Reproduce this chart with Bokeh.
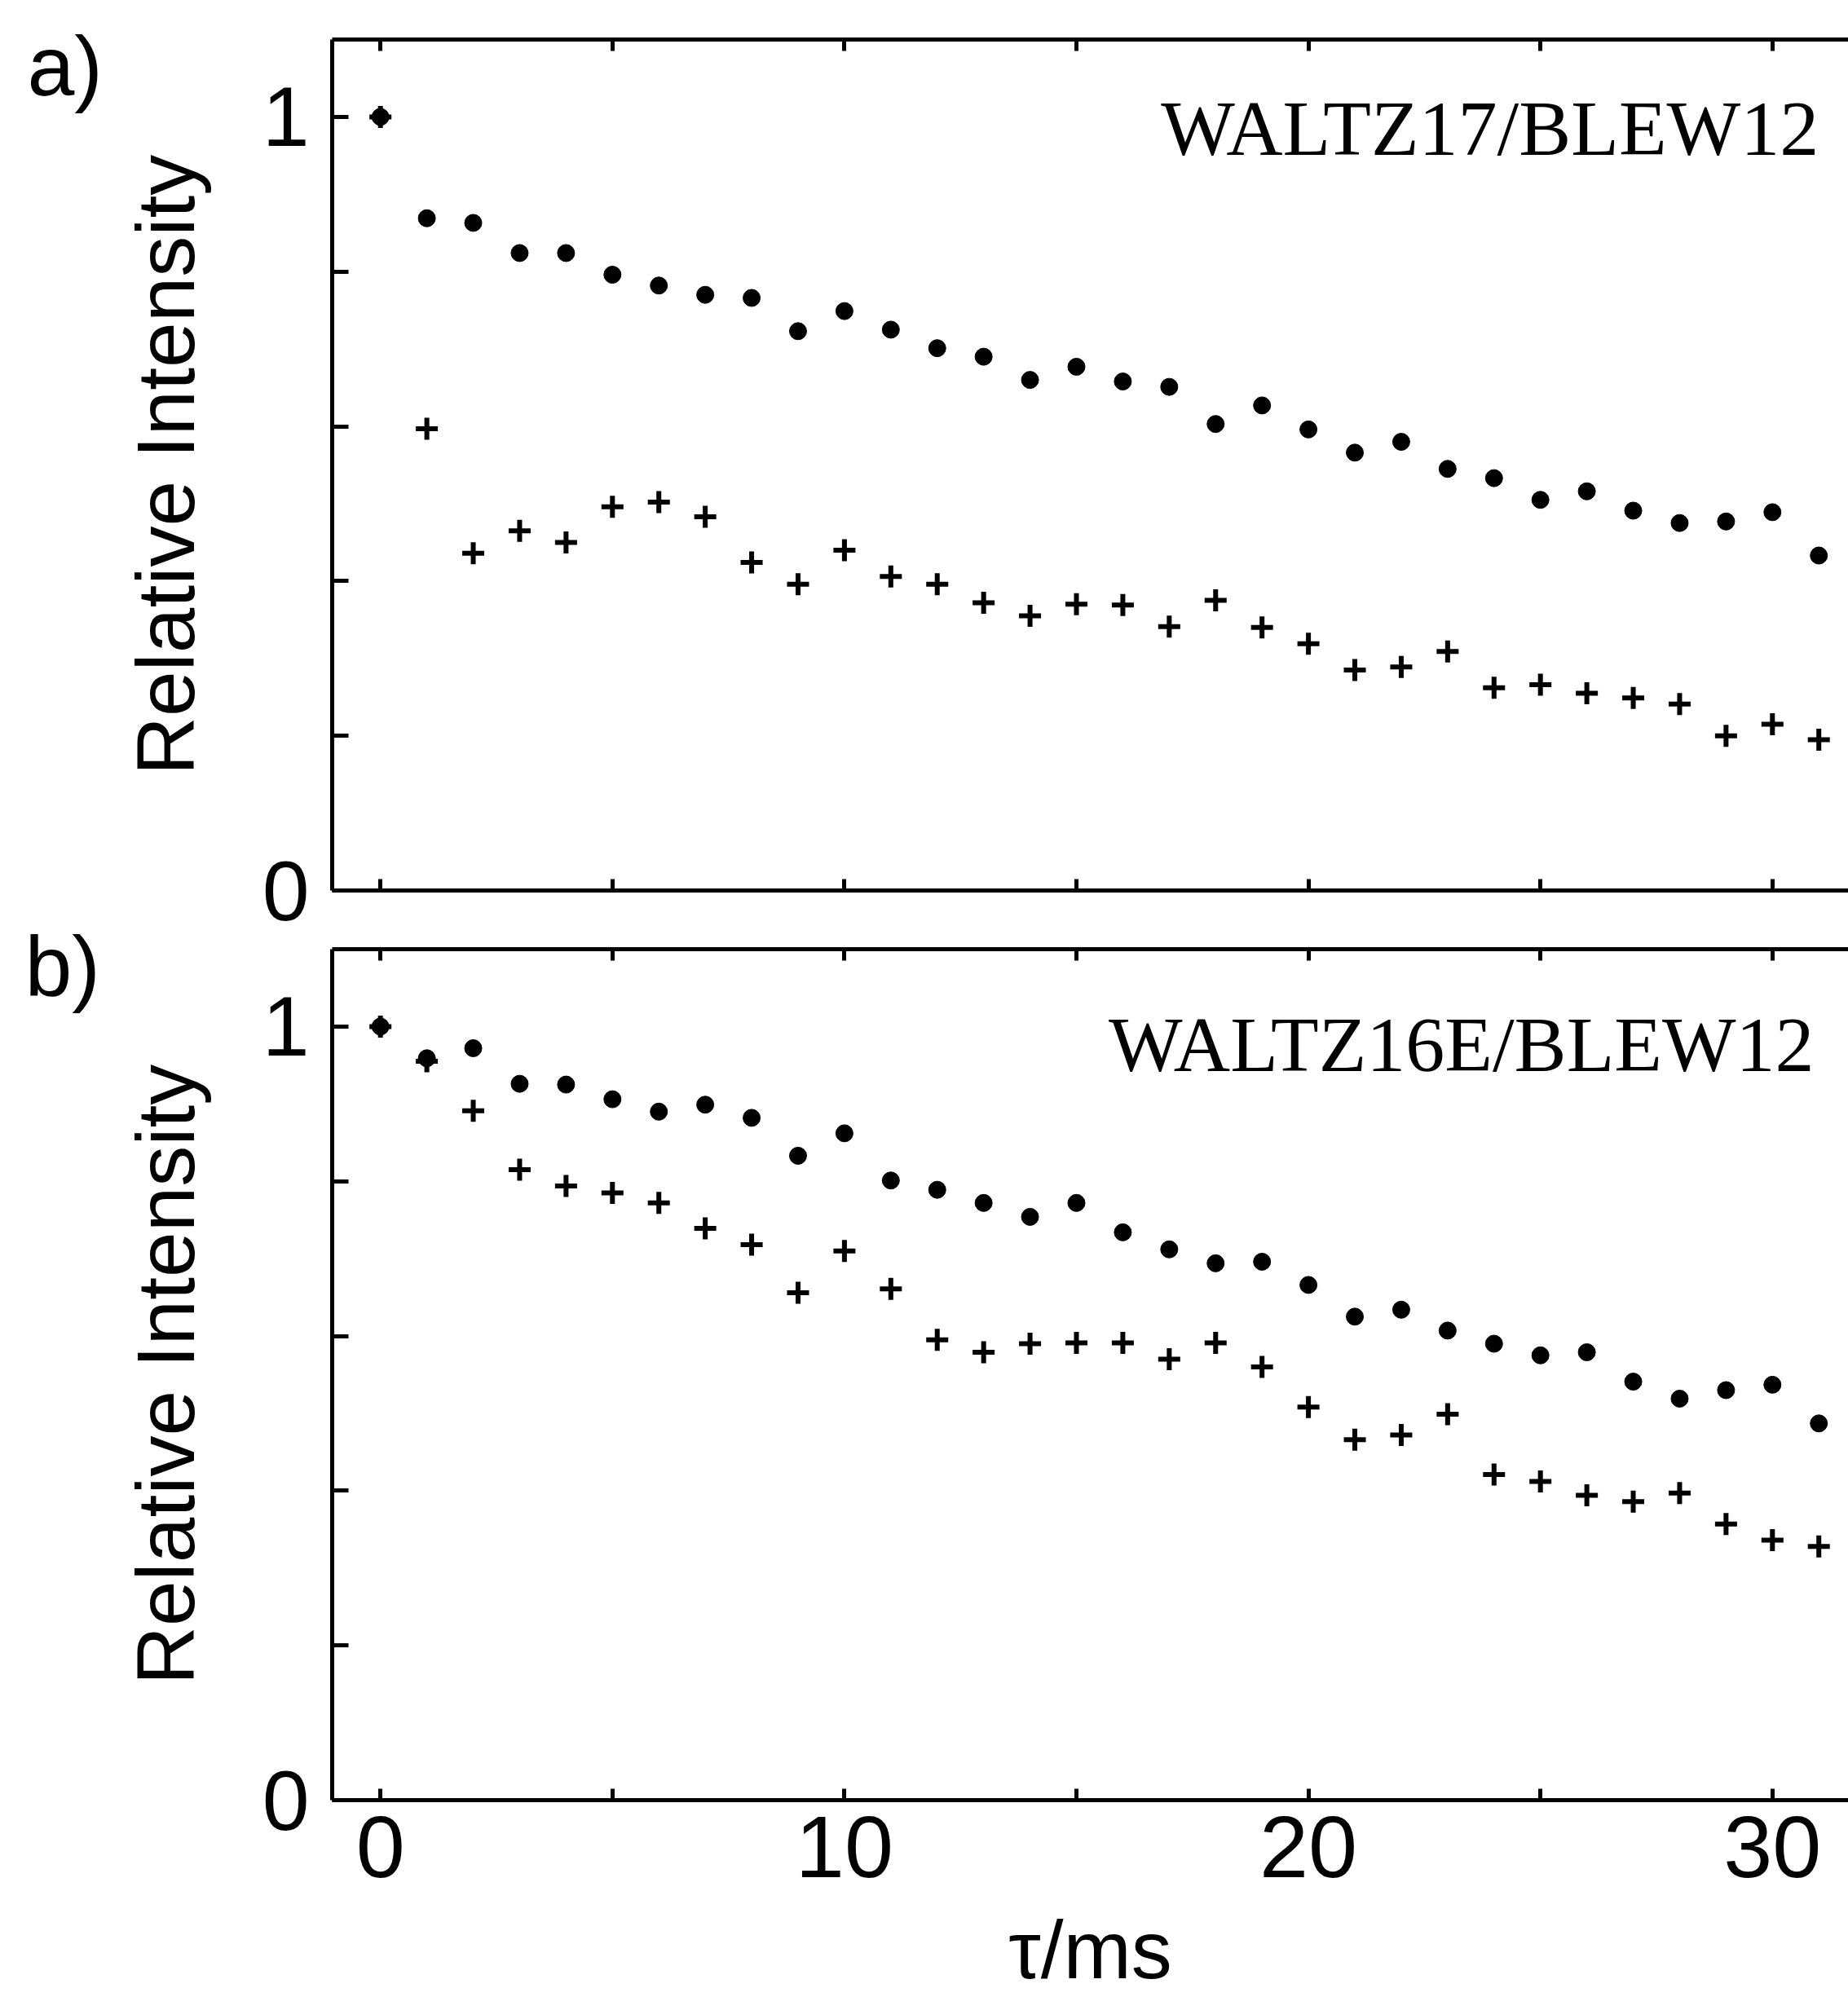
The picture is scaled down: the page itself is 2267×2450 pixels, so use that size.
from bokeh.plotting import figure
from bokeh.models import FixedTicker, LinearAxis, Range1d, Label
from bokeh.layouts import column, row
from bokeh.embed import file_html
from bokeh.resources import INLINE

# ---------------- data ----------------
tau = list(range(32))  # tau / ms

a_dots = [1.000, 0.869, 0.863, 0.824, 0.824, 0.796, 0.782, 0.770, 0.766, 0.723,
          0.749, 0.725, 0.701, 0.690, 0.660, 0.677, 0.658, 0.651, 0.603, 0.627,
          0.596, 0.566, 0.580, 0.545, 0.533, 0.505, 0.516, 0.491, 0.475, 0.477,
          0.489, 0.433]
a_cross = [1.000, 0.597, 0.436, 0.465, 0.450, 0.496, 0.502, 0.483, 0.424, 0.396,
           0.440, 0.406, 0.396, 0.372, 0.355, 0.370, 0.369, 0.341, 0.375, 0.340,
           0.319, 0.285, 0.289, 0.309, 0.262, 0.266, 0.255, 0.249, 0.241, 0.200,
           0.215, 0.195]
b_dots = [1.000, 0.959, 0.972, 0.926, 0.925, 0.906, 0.890, 0.899, 0.882, 0.833,
          0.862, 0.801, 0.789, 0.772, 0.754, 0.772, 0.734, 0.712, 0.694, 0.696,
          0.666, 0.625, 0.634, 0.607, 0.590, 0.575, 0.579, 0.541, 0.519, 0.530,
          0.537, 0.487]
b_cross = [1.000, 0.955, 0.891, 0.815, 0.794, 0.785, 0.772, 0.739, 0.718, 0.656,
           0.710, 0.661, 0.595, 0.579, 0.590, 0.591, 0.591, 0.570, 0.591, 0.560,
           0.508, 0.466, 0.472, 0.499, 0.421, 0.412, 0.394, 0.386, 0.397, 0.357,
           0.336, 0.328]

x_major = [0, 10, 20, 30]
x_minor = [5, 15, 25]
y_major = [0, 1]
y_minor = [0.2, 0.4, 0.6, 0.8]

titles = ["WALTZ17/BLEW12", "WALTZ16E/BLEW12"]
panel_tags = ["a)", "b)"]
x_label = "τ/ms"
y_label = "Relative Intensity"

# ---------------- layout constants ----------------
W = 2267
H = 2450
TAG_W = 130           # narrow strip on the left holding the panel tags
LEFT = 407            # absolute x of the plot frames' left edge
X0 = -1.04
PX_PER_MS = 56.92
X1 = X0 + (W - LEFT) / PX_PER_MS
SANS = "Liberation Sans"
SERIF = "Liberation Serif"


def style_axis(ax, tick_len, labels, font_size="104px", standoff=12):
    ax.axis_line_width = 5
    ax.axis_line_color = "black"
    ax.major_tick_in = tick_len
    ax.major_tick_out = 0
    ax.major_tick_line_width = 5
    ax.minor_tick_in = tick_len
    ax.minor_tick_out = 0
    ax.minor_tick_line_width = 5
    if labels:
        ax.major_label_text_font = SANS
        ax.major_label_text_font_size = font_size
        ax.major_label_text_color = "black"
        ax.major_label_standoff = standoff
    else:
        ax.major_label_overrides = {t: "" for t in ax.ticker.ticks}
        ax.major_label_text_font_size = "8px"
        ax.major_label_standoff = 0


def make_panel(dots, crosses, title, title_x, title_y,
               top, frame_h, bottom, show_x_labels):
    p = figure(width=W - TAG_W, height=top + frame_h + bottom,
               output_backend="svg", toolbar_location=None,
               x_range=Range1d(X0, X1), y_range=Range1d(0, 1.1),
               min_border_left=LEFT - TAG_W, min_border_right=0,
               min_border_top=top, min_border_bottom=bottom,
               x_axis_location=None, y_axis_location=None)
    p.outline_line_color = None
    p.background_fill_color = "white"
    p.border_fill_color = "white"
    p.grid.grid_line_color = None

    bottom_ax = LinearAxis(ticker=FixedTicker(ticks=x_major, minor_ticks=x_minor))
    style_axis(bottom_ax, 14, show_x_labels, font_size="108px", standoff=20)
    if show_x_labels:
        bottom_ax.axis_label = x_label
        bottom_ax.axis_label_text_font = SANS
        bottom_ax.axis_label_text_font_size = "100px"
        bottom_ax.axis_label_text_font_style = "normal"
        bottom_ax.axis_label_text_color = "black"
        bottom_ax.axis_label_standoff = 30
    p.add_layout(bottom_ax, "below")

    top_ax = LinearAxis(ticker=FixedTicker(ticks=x_major, minor_ticks=x_minor))
    style_axis(top_ax, 14, False)
    p.add_layout(top_ax, "above")

    left_ax = LinearAxis(ticker=FixedTicker(ticks=y_major, minor_ticks=y_minor))
    style_axis(left_ax, 20, True, font_size="104px", standoff=28)
    left_ax.axis_label = y_label
    left_ax.axis_label_text_font = SANS
    left_ax.axis_label_text_font_size = "100px"
    left_ax.axis_label_text_font_style = "normal"
    left_ax.axis_label_text_color = "black"
    left_ax.axis_label_standoff = 60
    p.add_layout(left_ax, "left")

    p.scatter(tau, dots, marker="circle", size=21, color="black")
    p.scatter(tau, crosses, marker="cross", size=27, line_width=6,
              line_color="black")

    p.add_layout(Label(x=title_x, y=title_y, text=title, text_align="right",
                       text_baseline="alphabetic", text_font=SERIF,
                       text_font_size="96px", text_color="black"))
    return p


pa = make_panel(a_dots, a_cross, titles[0], 31.0, 0.985,
                top=48, frame_h=1044, bottom=60, show_x_labels=False)
pb = make_panel(b_dots, b_cross, titles[1], 30.9, 0.977,
                top=12, frame_h=1046, bottom=240, show_x_labels=True)

# strip with the panel tags "a)" and "b)" (coordinates in pixels from top)
tags = figure(width=TAG_W, height=H, output_backend="svg", toolbar_location=None,
              x_range=Range1d(0, TAG_W), y_range=Range1d(H, 0),
              min_border=0, x_axis_location=None, y_axis_location=None)
tags.outline_line_color = None
tags.grid.grid_line_color = None
for tag, ty, tx in zip(panel_tags, [80, 1184], [33, 30]):
    tags.add_layout(Label(x=tx, y=ty, text=tag, text_align="left",
                          text_baseline="alphabetic", text_font=SANS,
                          text_font_size="104px", text_color="black"))

layout = row(tags, column(pa, pb, spacing=0), spacing=0)
open("out.html", "w").write(file_html(layout, INLINE))
